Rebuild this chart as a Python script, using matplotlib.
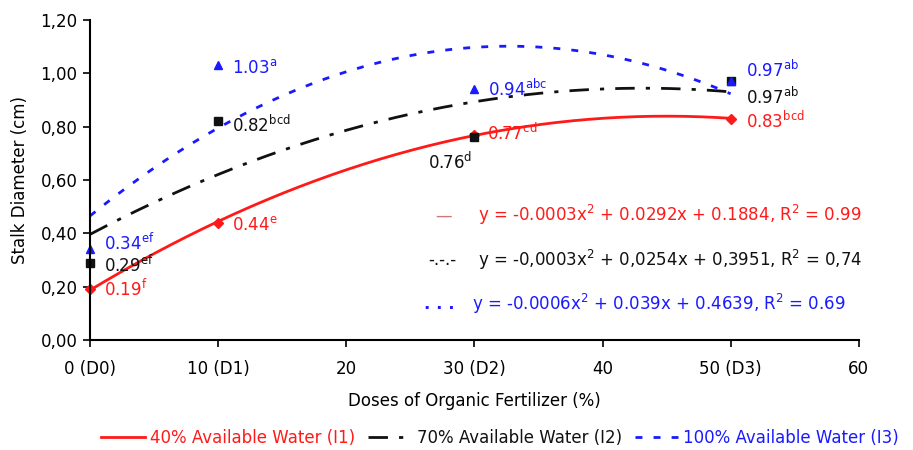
import numpy as np
import matplotlib
matplotlib.use("Agg")
import matplotlib.pyplot as plt

plt.rcParams['font.family'] = ['DejaVu Sans']
plt.rcParams['mathtext.default'] = 'regular'

# doses (%) and measured stalk diameter (cm)
doses = [0, 10, 30, 50]
i1 = [0.19, 0.44, 0.77, 0.83]
i2 = [0.29, 0.82, 0.76, 0.97]
i3 = [0.34, 1.03, 0.94, 0.97]

# letters of the mean comparison test
i1_letters = ['f', 'e', 'cd', 'bcd']
i2_letters = ['ef', 'bcd', 'd', 'ab']
i3_letters = ['ef', 'a', 'abc', 'ab']

# label positions (x, y) next to each point
i1_lab = [(1.1, 0.19), (11.1, 0.43), (31.0, 0.776), (51.2, 0.82)]
i2_lab = [(1.1, 0.28), (11.1, 0.806), (26.4, 0.667), (51.2, 0.91)]
i3_lab = [(1.1, 0.364), (11.1, 1.02), (31.1, 0.94), (51.2, 1.01)]

xtick_vals = [0, 10, 20, 30, 40, 50, 60]
xtick_labels = ['0 (D0)', '10 (D1)', '20', '30 (D2)', '40', '50 (D3)', '60']
ytick_vals = [0, 0.2, 0.4, 0.6, 0.8, 1.0, 1.2]

eq1 = 'y = -0.0003x$^{2}$ + 0.0292x + 0.1884, R$^{2}$ = 0.99'
eq2 = 'y = -0,0003x$^{2}$ + 0,0254x + 0,3951, R$^{2}$ = 0,74'
eq3 = 'y = -0.0006x$^{2}$ + 0.039x + 0.4639, R$^{2}$ = 0.69'

red = '#ff1a1a'
blue = '#1a1aff'
black = '#111111'
fs = 12

fig = plt.figure(figsize=(9.13, 4.5), dpi=100)
ax = fig.add_axes([0.0986, 0.244, 0.842, 0.712])

xs = np.linspace(0, 50, 200)
series = [
    (i1, i1_letters, i1_lab, red, '-', 'D', '40% Available Water (I1)'),
    (i2, i2_letters, i2_lab, black, (0, (7, 4, 1.5, 4)), 's', '70% Available Water (I2)'),
    (i3, i3_letters, i3_lab, blue, (0, (2.5, 4)), '^', '100% Available Water (I3)'),
]
for vals, letters, labs, col, ls, mk, name in series:
    c = np.polyfit(doses, vals, 2)
    ax.plot(xs, np.polyval(c, xs), color=col, ls=ls, lw=2, label=name)
    ax.plot(doses, vals, ls='none', marker=mk, color=col, ms=6 if mk != 'D' else 5,
            clip_on=False)
    for v, l, (tx, ty) in zip(vals, letters, labs):
        ax.text(tx, ty, '%.2f$^{%s}$' % (v, l), color=col, fontsize=fs,
                ha='left', va='center')

# equation block
ax.text(0.46, 0.39, '—', transform=ax.transAxes, color='#cc7777', fontsize=fs,
        ha='center', va='center')
ax.text(0.505, 0.39, eq1, transform=ax.transAxes, color=red, fontsize=fs, va='center')
ax.text(0.458, 0.25, '-.-.-', transform=ax.transAxes, color=black, fontsize=fs,
        ha='center', va='center')
ax.text(0.505, 0.25, eq2, transform=ax.transAxes, color=black, fontsize=fs, va='center')
ax.text(0.455, 0.1125, '. . .', transform=ax.transAxes, color=blue, fontsize=fs,
        ha='center', va='center', fontweight='bold')
ax.text(0.497, 0.1125, eq3, transform=ax.transAxes, color=blue, fontsize=fs, va='center')

ax.set_xlim(0, 60)
ax.set_ylim(0, 1.2)
ax.set_xticks(xtick_vals)
ax.set_xticklabels(xtick_labels, fontsize=fs)
ax.set_yticks(ytick_vals)
ax.set_yticklabels([('%.2f' % v).replace('.', ',') for v in ytick_vals], fontsize=fs)
ax.tick_params(axis='x', direction='out', length=5, pad=9, width=1.2)
ax.tick_params(axis='y', direction='out', length=5, pad=4, width=1.2)
ax.spines['top'].set_visible(False)
ax.spines['right'].set_visible(False)
ax.spines['left'].set_linewidth(1.5)
ax.spines['bottom'].set_linewidth(1.5)
ax.set_xlabel('Doses of Organic Fertilizer (%)', fontsize=fs, labelpad=10)
ax.set_ylabel('Stalk Diameter (cm)', fontsize=fs, labelpad=8)

leg = fig.legend(loc='center', bbox_to_anchor=(0.548, 0.027), ncol=3, frameon=False,
                 fontsize=fs, handlelength=2.6, columnspacing=0.8, handletextpad=0.3)
for t, h in zip(leg.get_texts(), leg.get_lines()):
    t.set_color(h.get_color())

fig.savefig('out.png', dpi=100)
